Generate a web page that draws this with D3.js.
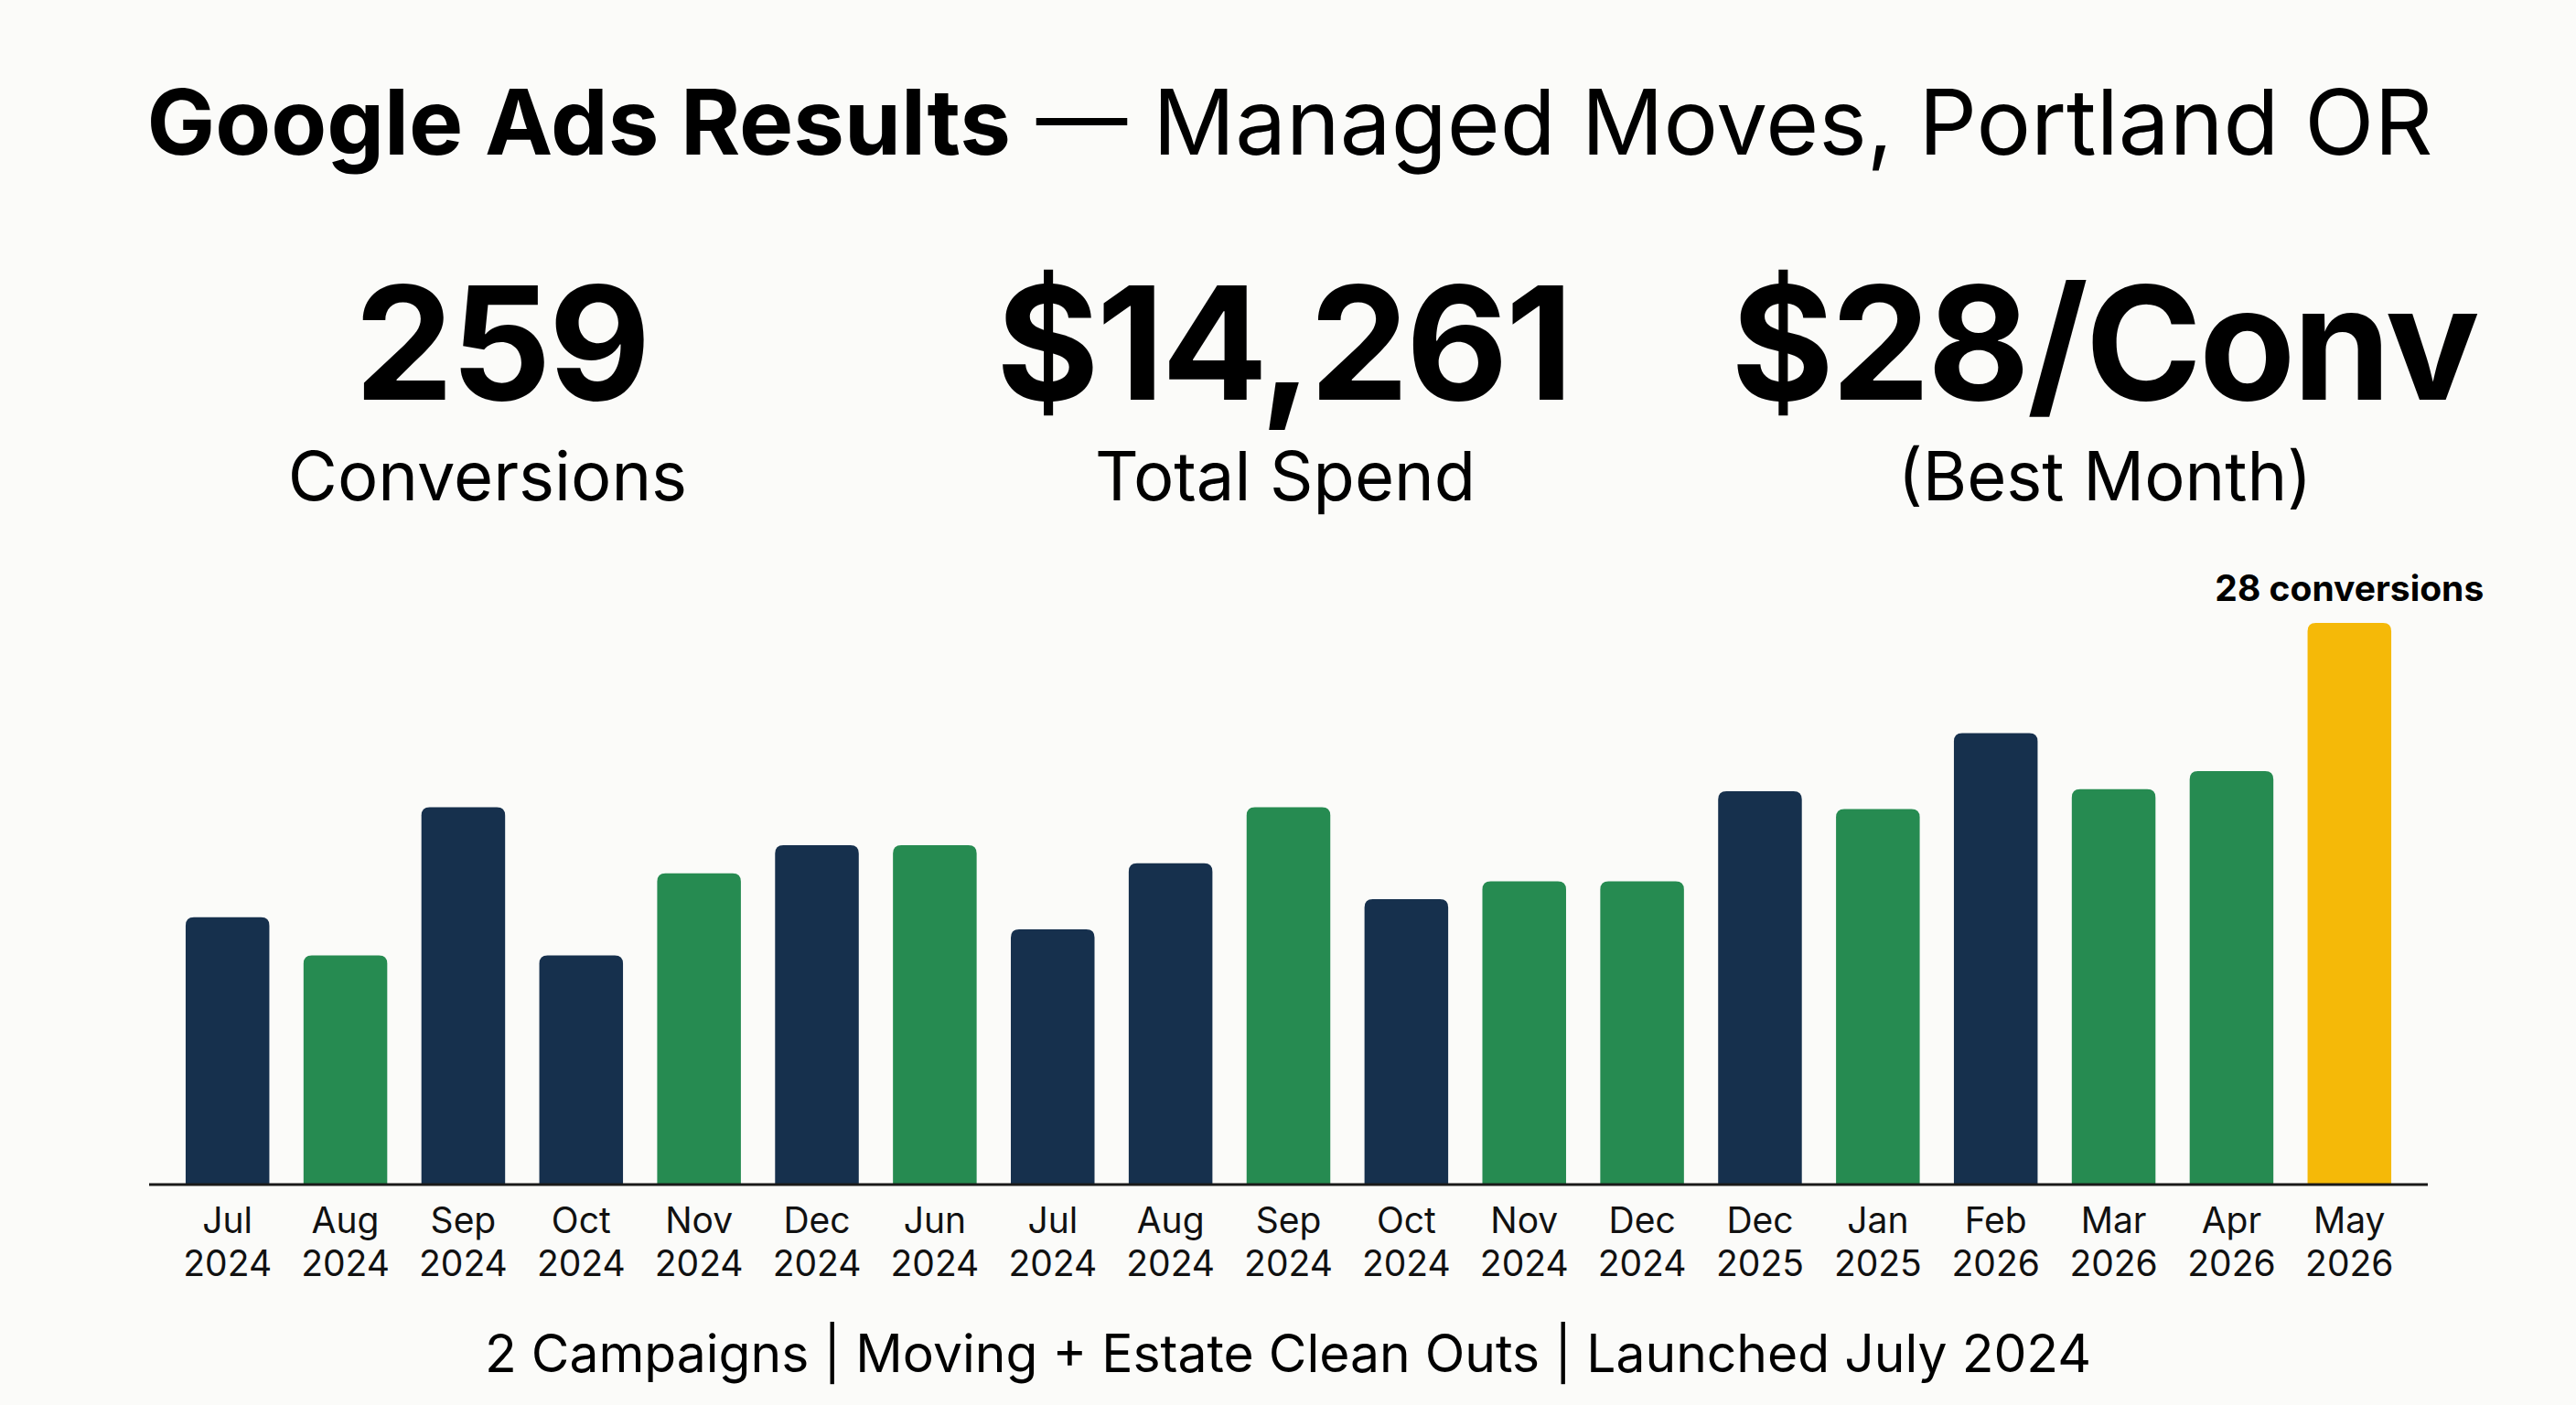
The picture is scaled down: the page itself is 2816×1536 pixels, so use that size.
<!DOCTYPE html>
<html>
<head>
<meta charset="utf-8">
<script src="https://cdn.jsdelivr.net/npm/d3@7"></script>
<style>
  html, body { margin: 0; padding: 0; background: #fbfbf9; }
  svg { display: block; font-family: Inter, "Noto Sans", sans-serif; }
</style>
</head>
<body>
<svg id="chart" width="2816" height="1536"></svg>
<script>
// monthly conversions
const months = ['Jul', 'Aug', 'Sep', 'Oct', 'Nov', 'Dec', 'Jun', 'Jul', 'Aug', 'Sep',
    'Oct', 'Nov', 'Dec', 'Dec', 'Jan', 'Feb', 'Mar', 'Apr', 'May'];
const years = ['2024', '2024', '2024', '2024', '2024', '2024', '2024', '2024', '2024', '2024',
    '2024', '2024', '2024', '2025', '2025', '2026', '2026', '2026', '2026'];
const conversions = [13.3, 11.4, 18.8, 11.4, 15.5, 16.9, 16.9, 12.7, 16.0, 18.8,
    14.2, 15.1, 15.1, 19.6, 18.7, 22.5, 19.7, 20.6, 28];
const barKind = ['navy', 'green', 'navy', 'navy', 'green', 'navy', 'green', 'navy', 'navy', 'green',
    'navy', 'green', 'green', 'navy', 'green', 'navy', 'green', 'green', 'best'];

const kpiValues = ['259', '$14,261', '$28/Conv'];
const kpiLabels = ['Conversions', 'Total Spend', '(Best Month)'];

const colors = { navy: '#16304d', green: '#268b51', best: '#f5b908' };

const svg = d3.select('#chart');

// title
const title = svg.append('text')
    .attr('x', 1410).attr('y', 169)
    .attr('text-anchor', 'middle')
    .style('font-size', '99.5px')
    .attr('fill', '#000');
title.append('tspan').style('font-weight', 700).text('Google Ads Results');
title.append('tspan').style('font-weight', 400).text(' \u2014 Managed Moves, Portland OR');

// kpis
const kpiX = [548, 1403, 2300];
const kpiLabelX = [533, 1405, 2301];
svg.selectAll('.kpi-value')
    .data(kpiValues)
    .enter().append('text')
    .attr('class', 'kpi-value')
    .attr('x', (d, i) => kpiX[i])
    .attr('y', 437)
    .attr('text-anchor', 'middle')
    .style('font-size', '172px')
    .style('font-weight', 700)
    .style('letter-spacing', '-3px')
    .text(d => d);
svg.selectAll('.kpi-label')
    .data(kpiLabels)
    .enter().append('text')
    .attr('class', 'kpi-label')
    .attr('x', (d, i) => kpiLabelX[i])
    .attr('y', 547)
    .attr('text-anchor', 'middle')
    .style('font-size', '74px')
    .style('font-weight', 400)
    .text(d => d);

// bars
const idx = d3.range(conversions.length);
const x = d3.scaleBand()
    .domain(idx)
    .range([163, 2654])
    .paddingInner(0.29)
    .paddingOuter(0.31);
const y = d3.scaleLinear()
    .domain([0, 28])
    .range([1294, 681]);

const r = 9;
const barPath = (i) => {
    const x0 = x(i), x1 = x(i) + x.bandwidth();
    const y0 = y(0), y1 = y(conversions[i]);
    return `M${x0},${y0}V${y1 + r}Q${x0},${y1} ${x0 + r},${y1}H${x1 - r}Q${x1},${y1} ${x1},${y1 + r}V${y0}Z`;
};

svg.append('g')
    .selectAll('path')
    .data(idx)
    .enter().append('path')
    .attr('d', barPath)
    .attr('fill', i => colors[barKind[i]]);

// baseline
svg.append('line')
    .attr('x1', 163).attr('x2', 2654)
    .attr('y1', y(0) + 1).attr('y2', y(0) + 1)
    .attr('stroke', '#1a1a1a')
    .attr('stroke-width', 3);

// best month label
const best = conversions.length - 1;
svg.append('text')
    .attr('x', x(best) + x.bandwidth() / 2)
    .attr('y', y(conversions[best]) - 24)
    .attr('text-anchor', 'middle')
    .style('font-size', '39px')
    .style('font-weight', 700)
    .text(conversions[best] + ' conversions');

// month labels
const ticks = svg.append('g')
    .selectAll('text')
    .data(idx)
    .enter().append('text')
    .attr('text-anchor', 'middle')
    .style('font-size', '39px')
    .attr('fill', '#111');
ticks.append('tspan')
    .attr('x', i => x(i) + x.bandwidth() / 2)
    .attr('y', 1348)
    .text(i => months[i]);
ticks.append('tspan')
    .attr('x', i => x(i) + x.bandwidth() / 2)
    .attr('y', 1395)
    .text(i => years[i]);

// footer
svg.append('text')
    .attr('x', 1408).attr('y', 1500)
    .attr('text-anchor', 'middle')
    .style('font-size', '57px')
    .text('2 Campaigns | Moving + Estate Clean Outs | Launched July 2024');
</script>
</body>
</html>
